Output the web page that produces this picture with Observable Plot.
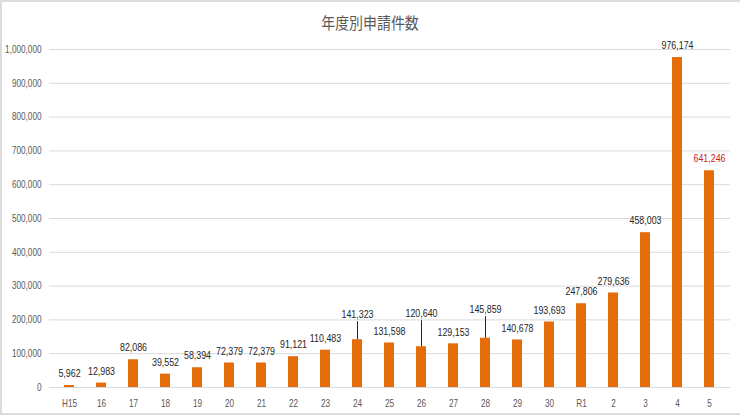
<!DOCTYPE html>
<html>
<head>
<meta charset="utf-8">
<script src="https://cdn.jsdelivr.net/npm/d3@7"></script>
<script src="https://cdn.jsdelivr.net/npm/@observablehq/plot@0.6"></script>
<style>
  html, body { margin: 0; padding: 0; background: #fff; }
  #wrap { position: relative; width: 740px; height: 417px; overflow: hidden; background: #fff; }
  #frame { position: absolute; left: 0; top: 0; width: 740px; height: 415px; box-sizing: border-box;
           border-top: 2px solid #dcdcdc; border-left: 2px solid #dcdcdc; border-bottom: 2px solid #dcdcdc; pointer-events: none; }
  #title { height: 30px; box-sizing: border-box; padding-top: 14px; line-height: 16px; text-align: center;
           font-family: "Noto Sans CJK JP", sans-serif; font-size: 16px; color: #595959; }
  #title span { display: inline-block; transform: scaleX(0.87); }
  #chart svg { display: block; }
</style>
</head>
<body>
<div id="wrap">
  <div id="title"><span>年度別申請件数</span></div>
  <div id="chart"></div>
  <div id="frame"></div>
</div>
<script>
const years = ["H15","16","17","18","19","20","21","22","23","24","25","26","27","28","29","30","R1","2","3","4","5"];
const counts = [5962,12983,82086,39552,58394,72379,72379,91121,110483,141323,131598,120640,129153,145859,140678,193693,247806,279636,458003,976174,641246];
const labelTexts = ["5,962","12,983","82,086","39,552","58,394","72,379","72,379","91,121","110,483","141,323","131,598","120,640","129,153","145,859","140,678","193,693","247,806","279,636","458,003","976,174","641,246"];
const leaderYears = ["24","26","28"];
const leaderTopValues = [194700, 197700, 209600];
const highlightYear = "5";
const yTicks = [0,100000,200000,300000,400000,500000,600000,700000,800000,900000,1000000];

const data = years.map((y, i) => {
  const li = leaderYears.indexOf(y);
  return {year: y, count: counts[i], label: labelTexts[i], labelAt: li >= 0 ? leaderTopValues[li] : null};
});
const leaders = data.filter(d => d.labelAt !== null);
const plain = data.filter(d => d.labelAt === null);

const font = "'Liberation Sans', Arial, sans-serif";

const chart = Plot.plot({
  width: 740,
  height: 387,
  marginTop: 19,
  marginBottom: 30,
  marginLeft: 47,
  marginRight: 10,
  style: {fontFamily: font, background: "transparent", overflow: "visible"},
  x: {domain: years, paddingInner: 0.69, paddingOuter: 0.345, label: null},
  y: {domain: [0, 1000000], label: null},
  marks: [
    Plot.ruleY(yTicks, {stroke: "#d9d9d9", strokeWidth: 1, insetLeft: 2}),
    Plot.axisY({ticks: yTicks, tickSize: 0, tickPadding: 6, tickFormat: d3.format(","), fontSize: 10, fill: "#595959", label: null}),
    Plot.axisX({tickSize: 0, tickPadding: 12, fontSize: 10, fill: "#595959", label: null}),
    Plot.barY(data, {x: "year", y: "count", fill: "#e46c0a"}),
    Plot.text(plain, {x: "year", y: "count", text: "label", dy: -12, fontSize: 11.5,
      fill: d => d.year === highlightYear ? "#d02020" : "#262626"}),
    Plot.ruleX(leaders, {x: "year", y1: "count", y2: "labelAt", stroke: "#262626", strokeWidth: 1}),
    Plot.text(leaders, {x: "year", y: "labelAt", text: "label", dy: -7, fontSize: 11.5, fill: "#262626"})
  ]
});

// condense all chart texts horizontally (the reference uses a narrow UI font)
d3.select(chart).selectAll("text").each(function() {
  const x = +this.getAttribute("x") || 0;
  const t = this.getAttribute("transform") || "";
  const s = this.parentNode && this.parentNode.getAttribute("font-size") === "11.5" ? 0.77 : 0.82;
  this.setAttribute("transform", `${t} translate(${x},0) scale(${s},1) translate(${-x},0)`);
});

document.getElementById("chart").appendChild(chart);
</script>
</body>
</html>
